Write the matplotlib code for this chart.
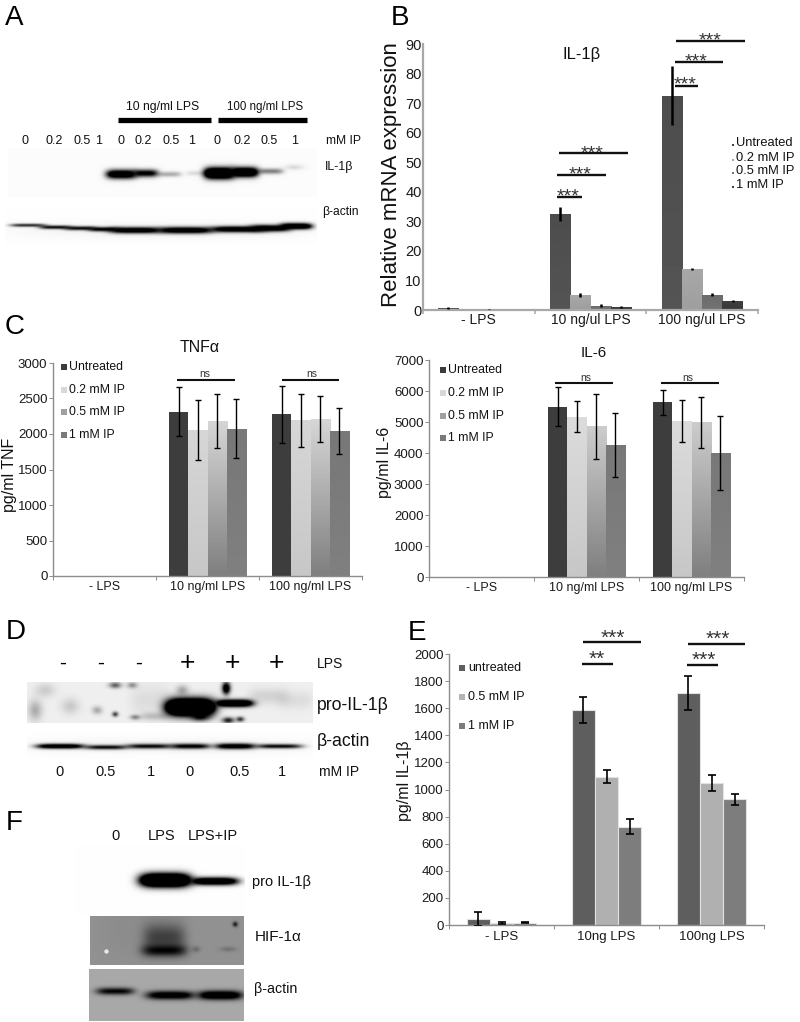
import numpy as np
import matplotlib
matplotlib.use("Agg")
import matplotlib.pyplot as plt

plt.rcParams['font.family'] = ['Liberation Sans', 'DejaVu Sans']

W, H = 800, 1022

# panel B, IL-1b mRNA
b_groups = ["- LPS", "10 ng/ul LPS", "100 ng/ul LPS"]
b_ticks = [0, 10, 20, 30, 40, 50, 60, 70, 80, 90]
b_untreated = [0.7, 32.5, 72.5]
b_02 = [0.4, 5.0, 14.0]
b_05 = [0.2, 1.5, 5.2]
b_1 = [0.1, 0.9, 3.0]
b_untreated_err = [0.2, 2.4, 10.0]
b_02_err = [0.1, 0.6, 0.3]
b_05_err = [0.05, 0.4, 0.6]
b_1_err = [0.05, 0.3, 0.4]
b_legend = ["Untreated", "0.2 mM IP", "0.5 mM IP", "1 mM IP"]

# panel C, TNFa
c_groups = ["- LPS", "10 ng/ml LPS", "100 ng/ml LPS"]
c_ticks = [0, 500, 1000, 1500, 2000, 2500, 3000]
c_untreated = [0, 2310, 2280]
c_02 = [0, 2060, 2195]
c_05 = [0, 2185, 2210]
c_1 = [0, 2075, 2040]
c_untreated_err = [0, 345, 400]
c_02_err = [0, 423, 372]
c_05_err = [0, 380, 320]
c_1_err = [0, 415, 327]

# panel C right, IL-6
i_ticks = [0, 1000, 2000, 3000, 4000, 5000, 6000, 7000]
i_untreated = [0, 5500, 5630]
i_02 = [0, 5170, 5030]
i_05 = [0, 4855, 4995]
i_1 = [0, 4250, 4005]
i_untreated_err = [0, 645, 390]
i_02_err = [0, 495, 690]
i_05_err = [0, 1050, 820]
i_1_err = [0, 1040, 1200]

# panel E, IL-1b protein
e_groups = ["- LPS", "10ng LPS", "100ng LPS"]
e_ticks = [0, 200, 400, 600, 800, 1000, 1200, 1400, 1600, 1800, 2000]
e_untreated = [45, 1590, 1712]
e_05 = [12, 1095, 1050]
e_1 = [18, 725, 928]
e_untreated_err = [50, 96, 123]
e_05_err = [8, 47, 60]
e_1_err = [4, 57, 42]
e_legend = ["untreated", "0.5 mM IP", "1 mM IP"]

# western blot labels
a_ip = ["0", "0.2", "0.5", "1", "0", "0.2", "0.5", "1", "0", "0.2", "0.5", "1"]
d_lps = ["-", "-", "-", "+", "+", "+"]
d_ip = ["0", "0.5", "1", "0", "0.5", "1"]
f_lanes = ["0", "LPS", "LPS+IP"]

fig = plt.figure(figsize=(W / 100, H / 100), dpi=100, facecolor='white')


def make_axes(x0, x1, y0, y1):
    # pixel box -> figure fraction, y0 is the baseline
    ax = fig.add_axes([x0 / W, 1 - y0 / H, (x1 - x0) / W, (y0 - y1) / H])
    ax.patch.set_alpha(0)
    for s in ['top', 'right']:
        ax.spines[s].set_visible(False)
    return ax


def grey(v):
    return (v, v, v)


def draw_bars(ax, series, errs, top, bottom, width, ecolor, elw, capsize, edge=None):
    n = len(series)
    for i in range(n):
        xs = np.arange(len(series[i])) + 0.5 + (i - (n - 1) / 2) * width
        bars = ax.bar(xs, series[i], width=width, color=grey(top[i]),
                      edgecolor=edge, linewidth=0.8 if edge else 0, zorder=2 + i * 0.1)
        if top[i] != bottom[i]:
            # fill fades from top to bottom of each bar
            for b in bars:
                if b.get_height() <= 0:
                    continue
                g = np.linspace(top[i], bottom[i], 64).reshape(-1, 1)
                im = ax.imshow(g, cmap='gray', vmin=0, vmax=1, aspect='auto',
                               extent=[b.get_x(), b.get_x() + width, 0, b.get_height()],
                               zorder=2 + i * 0.1)
                im.set_clip_path(b)
        ys = np.array(series[i], dtype=float)
        es = np.array(errs[i], dtype=float)
        keep = ys > 0
        ax.errorbar(xs[keep], ys[keep], yerr=es[keep], fmt='none', ecolor=ecolor,
                    elinewidth=elw, capsize=capsize, capthick=elw, zorder=5)


def style_axis(ax, ymax, ticks, groups, tick_size, x_size, spine, lw, pad, x_pad=3, ytick_len=3):
    ax.set_xlim(0, 3)
    ax.set_ylim(0, ymax)
    ax.set_yticks(ticks)
    ax.set_xticks([0, 1, 2, 3])
    ax.set_xticklabels([])
    ax.set_xticks([0.5, 1.5, 2.5], minor=True)
    ax.set_xticklabels(groups, minor=True, fontsize=x_size)
    ax.tick_params(axis='x', which='minor', length=0, pad=x_pad, labelcolor='#1a1a1a')
    ax.tick_params(axis='x', which='major', length=3, width=lw * 0.7, color=spine)
    ax.tick_params(axis='y', length=ytick_len, width=lw * 0.7, color=spine, pad=pad,
                   labelsize=tick_size, labelcolor='#1a1a1a')
    for s in ['left', 'bottom']:
        ax.spines[s].set_color(spine)
        ax.spines[s].set_linewidth(lw)


# ---- charts ----
axb = make_axes(423, 758, 310, 44)
draw_bars(axb, [b_untreated, b_02, b_05, b_1], [b_untreated_err, b_02_err, b_05_err, b_1_err],
          [0.30, 0.66, 0.42, 0.25], [0.33, 0.62, 0.45, 0.22], 0.182, 'black', 1.8, 0)
style_axis(axb, 90, b_ticks, b_groups, 10.5, 10, '#a8a8a8', 1.6, 1, x_pad=2, ytick_len=0)

axc = make_axes(53, 362, 576, 363)
draw_bars(axc, [c_untreated, c_02, c_05, c_1], [c_untreated_err, c_02_err, c_05_err, c_1_err],
          [0.24, 0.84, 0.84, 0.47], [0.24, 0.78, 0.50, 0.50], 0.185, 'black', 1.0, 2)
style_axis(axc, 3000, c_ticks, c_groups, 9.5, 9, '#8c8c8c', 1.0, 1, x_pad=3.5)

axi = make_axes(429, 744, 577, 360)
draw_bars(axi, [i_untreated, i_02, i_05, i_1], [i_untreated_err, i_02_err, i_05_err, i_1_err],
          [0.24, 0.86, 0.80, 0.47], [0.24, 0.78, 0.50, 0.50], 0.183, 'black', 1.0, 2)
style_axis(axi, 7000, i_ticks, c_groups, 9.5, 9, '#8c8c8c', 1.0, 1, x_pad=3.5)

axe = make_axes(449, 764, 925, 654)
draw_bars(axe, [e_untreated, e_05, e_1], [e_untreated_err, e_05_err, e_1_err],
          [0.37, 0.69, 0.49], [0.37, 0.69, 0.49], 0.222, 'black', 1.2, 3, edge='#e2e2e2')
style_axis(axe, 2000, e_ticks, e_groups, 9.5, 9.5, '#8c8c8c', 1.0, 1, x_pad=4.5)

# ---- overlay in pixel coords for blots and annotations ----
ov = fig.add_axes([0, 0, 1, 1], zorder=20)
ov.patch.set_alpha(0)
ov.axis('off')


def blot(x0, x1, y0, y1, base, bands):
    xx, yy = np.meshgrid(np.arange(x0, x1, 0.5), np.arange(y0, y1, 0.5))
    keep = np.ones_like(xx)
    for cx, cy, hw, hh, dark in bands:
        p = 4 if hw > 10 else 2
        d = dark * np.exp(-np.abs((xx - cx) / hw) ** p) * np.exp(-((yy - cy) / hh) ** 2)
        keep = keep * (1 - np.clip(d, 0, 1))
    ov.imshow(base * keep, cmap='gray', vmin=0, vmax=1, aspect='auto',
              extent=[x0, x1, y1, y0], interpolation='bilinear', zorder=1)


# A
blot(8, 317, 148, 197, 0.985, [
    (121, 174, 15, 4.4, 1.5), (145, 173, 13, 3.8, 1.1), (169, 174, 12, 2.6, 0.32),
    (197, 173, 11, 2.4, 0.13), (219, 173, 15, 5.4, 2.2), (244, 172, 14, 4.8, 1.8),
    (270, 171, 13, 2.8, 0.5), (294, 167, 9, 2.6, 0.14)])
blot(5, 317, 208, 245, 0.995, [
    (28, 225, 18, 1.6, 0.85), (55, 227, 16, 1.8, 1.0), (80, 228, 16, 2.0, 1.0),
    (104, 229, 16, 2.2, 1.1), (135, 230, 26, 3.0, 1.4), (185, 230, 28, 3.2, 1.4),
    (238, 229, 28, 3.0, 1.4), (270, 228, 20, 3.2, 1.4), (296, 226, 16, 3.0, 1.6),
    (160, 230, 150, 8, 0.04)])

# D
blot(27, 313, 682, 723, 0.94, [
    (190, 707, 24, 8, 3.0), (200, 716, 9, 4, 1.2), (234, 703, 19, 3.6, 1.8),
    (226, 688, 4, 6, 1.4), (228, 720, 6, 3, 0.9), (240, 719, 4, 2.5, 0.8),
    (115, 685, 6, 3, 0.6), (132, 685, 5, 3, 0.4), (115, 714, 3, 2.5, 0.75),
    (135, 717, 5, 2.5, 0.45), (97, 710, 5, 4, 0.3), (70, 706, 9, 8, 0.16),
    (45, 690, 10, 7, 0.15), (35, 710, 7, 10, 0.28), (150, 700, 20, 15, 0.08),
    (182, 690, 6, 5, 0.3), (268, 696, 20, 8, 0.12), (295, 700, 18, 9, 0.08),
    (155, 716, 14, 4, 0.2)])
blot(27, 313, 732, 760, 0.995, [
    (60, 746, 24, 2.4, 1.4), (106, 747, 21, 2.2, 1.0), (149, 746, 23, 2.4, 1.0),
    (190, 746, 20, 2.6, 1.1), (235, 746, 20, 2.8, 1.3), (279, 746, 23, 2.2, 1.0),
    (170, 746, 140, 7, 0.05)])

# F
blot(75, 245, 845, 915, 0.995, [
    (165, 880, 25, 6.5, 2.5), (214, 881, 24, 3.8, 1.6)])
blot(90, 244, 916, 965, 0.57, [
    (164, 950, 22, 6, 1.0), (164, 937, 21, 13, 0.55), (196, 949, 4, 3, 0.25),
    (228, 949, 8, 2.5, 0.22), (235, 924, 2.5, 2.5, 0.85), (140, 930, 40, 30, 0.04)])
ov.scatter([106], [951], s=10, color='#e8e8e8', linewidths=0, zorder=3)
blot(89, 244, 969, 1021, 0.66, [
    (115, 991, 19, 3.6, 1.0), (170, 995, 24, 4.2, 1.3), (220, 995, 22, 4.4, 1.5)])


def label(x, y, s, size, ha='left', rot=0, color='#111111'):
    ov.text(x, y, s, fontsize=size, ha=ha, va='center', rotation=rot, color=color, zorder=6)


def sig(x0, x1, y, text, tx, ty, size=14, lw=1.7):
    ov.plot([x0, x1], [y, y], color='#111111', lw=lw, solid_capstyle='butt', zorder=5)
    label(tx, ty, text, size, ha='center', color='#333333')


# panel letters
for s, x, y in [("A", 5, 18), ("B", 391, 18), ("C", 5, 327), ("D", 6, 632), ("E", 408, 633), ("F", 6, 823)]:
    label(x, y, s, 20, color='black')

# A text
label(163, 107, "10 ng/ml LPS", 8.7, ha='center')
label(265, 107, "100 ng/ml LPS", 8.3, ha='center')
ov.plot([118, 211], [120.5, 120.5], color='black', lw=3.8, solid_capstyle='butt')
ov.plot([218, 307], [120.5, 120.5], color='black', lw=3.8, solid_capstyle='butt')
a_x = [25, 54, 82, 99, 121, 143, 171, 192, 217, 242, 269, 295]
for x, s in zip(a_x, a_ip):
    label(x, 141, s, 9, ha='center')
label(326, 141, "mM IP", 8.7)
label(325, 167, "IL-1β", 9)
label(322, 212, "β-actin", 8.7)

# B text
label(391, 175, "Relative mRNA expression", 16, ha='center', rot=90)
label(582, 55, "IL-1β", 12, ha='center')
b_leg_y = [143, 158, 171, 185]
b_leg_c = ['#444444', '#aaaaaa', '#777777', '#444444']
for y, s, c in zip(b_leg_y, b_legend, b_leg_c):
    ov.scatter([733], [y + 2], s=4, marker='s', color=c, linewidths=0)
    label(736, y, s, 9.3)
sig(557, 582, 197, "***", 568, 197)
sig(557, 606, 175, "***", 580, 175)
sig(559, 628, 153, "***", 592, 154)
sig(675, 698, 86, "***", 685, 85)
sig(675, 723, 62, "***", 696, 62)
sig(676, 745, 41, "***", 710, 41)

# C text
label(200, 348, "TNFα", 11.5, ha='center')
label(10, 475, "pg/ml TNF", 11.5, ha='center', rot=90)
c_leg_c = ['#3c3c3c', '#d8d8d8', '#a0a0a0', '#7a7a7a']
for y, s, c in zip([367, 390, 412, 435], b_legend, c_leg_c):
    ov.scatter([64], [y], s=14, marker='s', color=c, linewidths=0)
    label(69, y, s, 8.8)
sig(177, 235, 380, "ns", 205, 374, size=7.5, lw=1.5)
sig(282, 339, 380, "ns", 312, 374, size=7.5, lw=1.5)

# IL-6 text
label(594, 353, "IL-6", 11, ha='center')
label(384, 462, "pg/ml IL-6", 11.5, ha='center', rot=90)
for y, s, c in zip([370, 393, 416, 438], b_legend, c_leg_c):
    ov.scatter([443], [y], s=14, marker='s', color=c, linewidths=0)
    label(448, y, s, 8.8)
sig(555, 613, 383, "ns", 586, 378, size=7.5, lw=1.5)
sig(661, 719, 383, "ns", 688, 378, size=7.5, lw=1.5)

# D text
d_x = [63, 101, 139, 187, 232, 276]
for x, s in zip(d_x, d_lps):
    label(x, 663, s, 19 if s == "+" else 15, ha='center', color='black')
label(317, 664, "LPS", 10)
label(317, 705, "pro-IL-1β", 12.7)
label(317, 741, "β-actin", 12.7)
d_ip_x = [60, 106, 151, 190, 240, 282]
for x, s in zip(d_ip_x, d_ip):
    label(x, 772, s, 10.5, ha='center')
label(319, 772, "mM IP", 10)

# E text
label(405, 781, "pg/ml IL-1β", 11.5, ha='center', rot=90)
e_leg_c = ['#5e5e5e', '#b4b4b4', '#7c7c7c']
for y, s, c in zip([668, 697, 726], e_legend, e_leg_c):
    ov.scatter([462], [y], s=14, marker='s', color=c, linewidths=0)
    label(468, y, s, 9)
sig(583, 641, 642, "***", 613, 638, size=15)
sig(582, 613, 664, "**", 597, 659, size=15)
sig(688, 745, 644, "***", 718, 639, size=15)
sig(687, 718, 665, "***", 704, 660, size=15)

# F text
for x, s in zip([115, 162, 213], f_lanes):
    label(x, 836, s, 10.5, ha='center')
label(252, 882, "pro IL-1β", 10.5)
label(255, 937, "HIF-1α", 11)
label(254, 989, "β-actin", 10.3)

ov.set_xlim(0, W)
ov.set_ylim(H, 0)

fig.savefig("out.png", dpi=100, facecolor='white')
